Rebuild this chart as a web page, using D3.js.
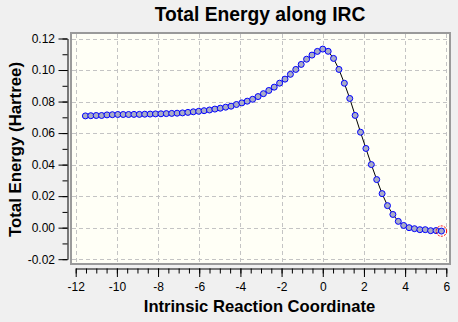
<!DOCTYPE html>
<html>
<head>
<meta charset="utf-8">
<script src="https://cdn.jsdelivr.net/npm/d3@7"></script>
<style>
  html, body { margin: 0; padding: 0; background: #f0f0f0; }
  svg { display: block; font-family: "Liberation Sans", Arial, sans-serif; }
</style>
</head>
<body>
<svg id="chart" width="458" height="322"></svg>
<script>
// IRC path: reaction coordinate and total energy (Hartree) of each step
const coord = [
  -11.528, -11.266, -11.004, -10.742, -10.480, -10.218, -9.956, -9.694, -9.432, -9.170,
  -8.908, -8.646, -8.384, -8.122, -7.860, -7.598, -7.336, -7.074, -6.812, -6.550,
  -6.288, -6.026, -5.764, -5.502, -5.240, -4.978, -4.716, -4.454, -4.192, -3.930,
  -3.668, -3.406, -3.144, -2.882, -2.620, -2.358, -2.096, -1.834, -1.572, -1.310,
  -1.048, -0.786, -0.524, -0.262, 0.000, 0.262, 0.524, 0.786, 1.048, 1.310,
  1.572, 1.834, 2.096, 2.358, 2.620, 2.882, 3.144, 3.406, 3.668, 3.930,
  4.192, 4.454, 4.716, 4.978, 5.240, 5.502, 5.764
];
const energy = [
  0.07090, 0.07103, 0.07116, 0.07116, 0.07154, 0.07167, 0.07179, 0.07179, 0.07179, 0.07186,
  0.07186, 0.07198, 0.07205, 0.07217, 0.07224, 0.07236, 0.07249, 0.07262, 0.07281, 0.07313,
  0.07351, 0.07383, 0.07421, 0.07465, 0.07522, 0.07579, 0.07643, 0.07706, 0.07814, 0.07916,
  0.08024, 0.08145, 0.08316, 0.08501, 0.08704, 0.08914, 0.09168, 0.09422, 0.09727, 0.10038,
  0.10356, 0.10686, 0.10947, 0.11182, 0.11328, 0.11188, 0.10737, 0.10038, 0.09161, 0.08196,
  0.07122, 0.06055, 0.05025, 0.04003, 0.03050, 0.02160, 0.01398, 0.00839, 0.00400, 0.00140,
  0.00000, -0.00064, -0.00127, -0.00127, -0.00191, -0.00184, -0.00216
];
const xTicks = [-12, -10, -8, -6, -4, -2, 0, 2, 4, 6];
const yTicks = [-0.02, 0.00, 0.02, 0.04, 0.06, 0.08, 0.10, 0.12];
const xMinorTicks = d3.range(-12, 6.001, 0.5);
const yMinorTicks = d3.range(-0.02, 0.1201, 0.01);

const points = coord.map((c, i) => ({ x: c, y: energy[i] }));
const current = points[points.length - 1];

const svg = d3.select("#chart");

const x = d3.scaleLinear().domain([-12, 6]).range([75.7, 446.3]);
const y = d3.scaleLinear().domain([-0.02, 0.12]).range([259.2, 38.5]);

// plot area
const plot = { left: 70, top: 32, right: 451, bottom: 265 };
svg.append("rect")
  .attr("x", plot.left).attr("y", plot.top)
  .attr("width", plot.right - plot.left).attr("height", plot.bottom - plot.top)
  .attr("fill", "#fffff6");

// dashed grid
const grid = svg.append("g")
  .attr("stroke", "#c4c4c4").attr("stroke-width", 1).attr("stroke-dasharray", "4,3");
grid.selectAll("line.v").data(xTicks).join("line")
  .attr("class", "v")
  .attr("x1", d => Math.round(x(d)) + 0.5).attr("x2", d => Math.round(x(d)) + 0.5)
  .attr("y1", plot.top + 2).attr("y2", plot.bottom - 1);
grid.selectAll("line.h").data(yTicks).join("line")
  .attr("class", "h")
  .attr("y1", d => Math.round(y(d)) + 0.5).attr("y2", d => Math.round(y(d)) + 0.5)
  .attr("x1", plot.left + 2).attr("x2", plot.right - 1);

// frame
svg.append("rect")
  .attr("x", plot.left + 1).attr("y", plot.top + 1)
  .attr("width", plot.right - plot.left - 2).attr("height", plot.bottom - plot.top - 2)
  .attr("fill", "none").attr("stroke", "#9a9a9a").attr("stroke-width", 2);

// y axis
const yAxisG = svg.append("g").attr("transform", "translate(67.5,0)");
yAxisG.append("g")
  .call(d3.axisLeft(y).tickValues(yMinorTicks).tickSize(5).tickSizeOuter(0).tickFormat(""))
  .call(g => g.select(".domain").remove());
yAxisG.append("g")
  .call(d3.axisLeft(y).tickValues(yTicks).tickSize(9).tickSizeOuter(0).tickPadding(3.5)
    .tickFormat(d3.format(".2f")));

// x axis
const xAxisG = svg.append("g").attr("transform", "translate(0,268.5)");
xAxisG.append("g")
  .call(d3.axisBottom(x).tickValues(xMinorTicks).tickSize(5).tickSizeOuter(0).tickFormat(""))
  .call(g => g.select(".domain").remove());
xAxisG.append("g")
  .call(d3.axisBottom(x).tickValues(xTicks).tickSize(8.5).tickSizeOuter(0).tickPadding(5.4)
    .tickFormat(d3.format("d")));

svg.selectAll(".tick text")
  .attr("font-size", 12).attr("font-family", "'Liberation Sans', Arial, sans-serif")
  .attr("fill", "#000")
  .text(function () { return this.textContent.replace("\u2212", "-"); });
svg.selectAll(".tick line, .domain").attr("stroke", "#000");

// energy profile
svg.append("path")
  .datum(points)
  .attr("fill", "none").attr("stroke", "#000").attr("stroke-width", 1)
  .attr("d", d3.line().x(d => x(d.x)).y(d => y(d.y)));

svg.append("g").selectAll("circle").data(points).join("circle")
  .attr("cx", d => x(d.x)).attr("cy", d => y(d.y)).attr("r", 3)
  .attr("fill", "#a9acc6").attr("stroke", "#0000ff").attr("stroke-width", 1);

// current point marker
svg.append("circle")
  .attr("cx", x(current.x)).attr("cy", y(current.y)).attr("r", 5.2)
  .attr("fill", "none").attr("stroke", "#ff0000").attr("stroke-width", 1)
  .attr("stroke-dasharray", "2,1.3");

// titles
svg.append("text")
  .attr("x", 260).attr("y", 20.5).attr("text-anchor", "middle")
  .attr("font-size", 19.3).attr("font-weight", "bold").attr("fill", "#000")
  .text("Total Energy along IRC");

svg.append("text")
  .attr("x", 259.5).attr("y", 311.5).attr("text-anchor", "middle")
  .attr("font-size", 16.6).attr("font-weight", "bold").attr("fill", "#000")
  .text("Intrinsic Reaction Coordinate");

svg.append("text")
  .attr("transform", "translate(20.5,149.5) rotate(-90)")
  .attr("text-anchor", "middle")
  .attr("font-size", 16.8).attr("font-weight", "bold").attr("fill", "#000")
  .text("Total Energy (Hartree)");
</script>
</body>
</html>
